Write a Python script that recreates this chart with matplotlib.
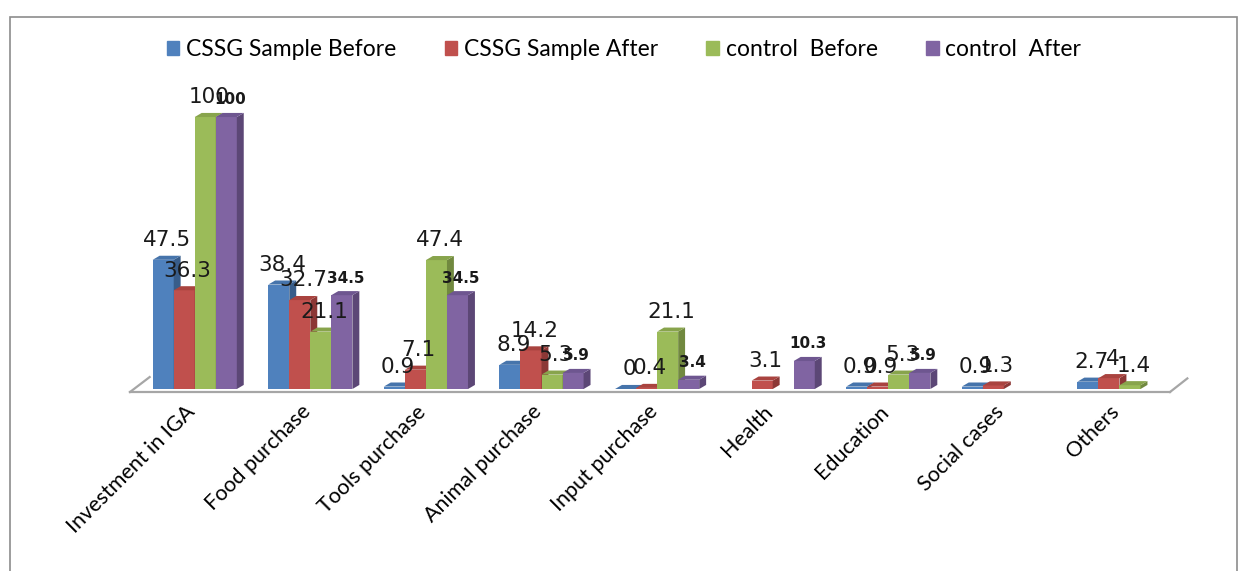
import matplotlib.pyplot as plt
from matplotlib.patches import Polygon, Rectangle
from matplotlib.transforms import ScaledTranslation
import numpy as np

categories = ['Investment in IGA', 'Food purchase', 'Tools purchase', 'Animal purchase',
              'Input purchase', 'Health', 'Education', 'Social cases', 'Others']
series_names = ['CSSG Sample Before', 'CSSG Sample After', 'control  Before', 'control  After']
cssg_before = [47.5, 38.4, 0.9, 8.9, 0, np.nan, 0.9, 0.9, 2.7]
cssg_after = [36.3, 32.7, 7.1, 14.2, 0.4, 3.1, 0.9, 1.3, 4]
control_before = [100, 21.1, 47.4, 5.3, 21.1, np.nan, 5.3, np.nan, 1.4]
control_after = [100, 34.5, 34.5, 5.9, 3.4, 10.3, 5.9, np.nan, np.nan]

front = ['#4F81BD', '#C0504D', '#9BBB59', '#8064A2']
side = ['#385D8A', '#8C3836', '#71893F', '#5C4776']
top = ['#4674AB', '#A9433F', '#88A44C', '#6E5690']

fig = plt.figure(figsize=(12.48, 5.71), dpi=100)
ax = fig.add_axes([130 / 1248, 0.3187, 1040 / 1248, 0.524])

# outer frame of the chart
fig.patches.append(Rectangle((10 / 1248, -0.1), 1227 / 1248, 1.07, transform=fig.transFigure,
                             fill=False, edgecolor='#8C8C8C', linewidth=1.2))

all_series = [cssg_before, cssg_after, control_before, control_after]
x = np.arange(len(categories))
w = 0.182
dx, dy = 0.06, 1.5

z = 3
for i in range(len(categories)):
    for s, vals in enumerate(all_series):
        v = vals[i]
        if np.isnan(v):
            continue
        xl = i - 2 * w + s * w
        xr = xl + w
        ax.bar(xl, v, width=w, align='edge', color=front[s], edgecolor='none', zorder=z)
        ax.add_patch(Polygon([(xr, 0), (xr + dx, dy), (xr + dx, v + dy), (xr, v)],
                             closed=True, facecolor=side[s], edgecolor='none', zorder=z))
        ax.add_patch(Polygon([(xl, v), (xl + dx, v + dy), (xr + dx, v + dy), (xr, v)],
                             closed=True, facecolor=top[s], edgecolor='none', zorder=z))
        z += 1

# value labels
for i in range(len(categories)):
    for s, vals in enumerate(all_series):
        v = vals[i]
        if np.isnan(v):
            continue
        xc = i - 2 * w + s * w + w / 2 + dx / 2
        txt = f'{v:g}'
        if s == 3:
            ax.annotate(txt, (xc, v + dy), xytext=(0, 4), textcoords='offset points',
                        ha='center', va='bottom', fontsize=11, fontweight='bold',
                        color='#1a1a1a', zorder=200)
        else:
            ax.annotate(txt, (xc, v + dy), xytext=(0, 4), textcoords='offset points',
                        ha='center', va='bottom', fontsize=15.5, color='#1a1a1a', zorder=200)

# floor edges
x0, x1 = -0.56, 8.437
fl = -1.1
ax.plot([x0, x1], [fl, fl], color='#A6A6A6', linewidth=1.6, clip_on=False, zorder=1)
ax.plot([x0, x0 + 0.17], [fl, fl + 5.5], color='#A6A6A6', linewidth=1.6, clip_on=False, zorder=1)
ax.plot([x1, x1 + 0.15], [fl, fl + 5.0], color='#A6A6A6', linewidth=1.6, clip_on=False, zorder=1)

ax.set_xlim(x0, x1)
ax.set_ylim(0, 110)
ax.set_yticks([])
ax.set_xticks(x)
ax.set_xticklabels(categories, rotation=45, ha='right', va='top', rotation_mode='anchor',
                   fontsize=15.5, family=['Lato', 'DejaVu Sans'])
ax.tick_params(axis='x', length=0, pad=9)
shift = ScaledTranslation(-10 / 100, 0, fig.dpi_scale_trans)
for lbl in ax.get_xticklabels():
    lbl.set_transform(lbl.get_transform() + shift)
for sp in ax.spines.values():
    sp.set_visible(False)
ax.patch.set_visible(False)

handles = [Rectangle((0, 0), 1, 1, color=c) for c in front]
fig.legend(handles, series_names, loc='center', bbox_to_anchor=(0.5, 1 - 50 / 571),
           ncol=4, frameon=False, handlelength=0.55, handleheight=0.55, handletextpad=0.3,
           columnspacing=2.1, prop={'family': ['Lato', 'DejaVu Sans'], 'size': 16.5})

fig.savefig('out.png', dpi=100)
